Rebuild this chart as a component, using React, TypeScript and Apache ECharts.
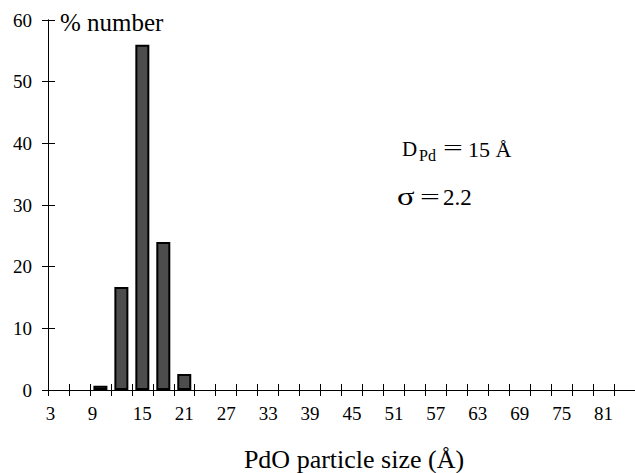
import React, { useEffect, useRef } from "react";
import * as echarts from "echarts";

const categories: string[] = [];
for (let v = 3; v <= 84; v += 3) categories.push(String(v));
// % number for sizes 9, 12, 15, 18, 21 Å; others zero
const barSizes = ["9", "12", "15", "18", "21"];
const barValues = [0.7, 16.7, 56, 24, 2.6];
const yTicks = { min: 0, max: 60, interval: 10 };

const seriesData = categories.map((c) => {
  const i = barSizes.indexOf(c);
  return i >= 0 ? barValues[i] : null;
});

const FONT = "Liberation Serif, Times New Roman, DejaVu Serif, serif";

function txt(text: string, x: number, y: number, size: number, extra: any = {}) {
  return {
    type: "text",
    x,
    y,
    ...(extra.scaleX ? { scaleX: extra.scaleX } : {}),
    style: {
      text,
      fontFamily: FONT,
      fontSize: size,
      fill: "#000",
      verticalAlign: "middle",
      align: extra.align || "left",
    },
  };
}

export default function App() {
  const ref = useRef<HTMLDivElement>(null);
  useEffect(() => {
    if (!ref.current) return;
    const chart = echarts.init(ref.current, null, { renderer: "svg" });
    const gridRect = { left: 48, top: 20, width: 588, height: 370 };
    const axisLineStyle = { color: "#000", width: 1 };
    chart.setOption({
      animation: false,
      backgroundColor: "#fff",
      grid: [
        { ...gridRect, containLabel: false },
        { ...gridRect, containLabel: false },
      ],
      xAxis: [
        {
          type: "category",
          gridIndex: 0,
          data: categories,
          boundaryGap: true,
          axisLine: { lineStyle: axisLineStyle },
          axisTick: { show: true, inside: false, length: 6, interval: 0, lineStyle: axisLineStyle },
          axisLabel: {
            interval: 1,
            margin: 14,
            color: "#000",
            fontFamily: FONT,
            fontSize: 19,
            formatter: (v: string) => (v.length === 1 ? `{s|${v}}` : v),
            rich: { s: { fontFamily: FONT, fontSize: 19, color: "#000", padding: [0, 16, 0, 0] } },
          },
          splitLine: { show: false },
        },
        {
          type: "category",
          gridIndex: 1,
          data: categories,
          boundaryGap: true,
          axisLine: { lineStyle: axisLineStyle },
          axisTick: { show: true, inside: true, length: 6, interval: 0, lineStyle: axisLineStyle },
          axisLabel: { show: false },
          splitLine: { show: false },
        },
      ],
      yAxis: [
        {
          type: "value",
          gridIndex: 0,
          ...yTicks,
          axisLine: { show: true, lineStyle: axisLineStyle },
          axisTick: { show: true, inside: false, length: 6, lineStyle: axisLineStyle },
          axisLabel: { margin: 16, color: "#000", fontFamily: FONT, fontSize: 19 },
          splitLine: { show: false },
        },
        {
          type: "value",
          gridIndex: 1,
          ...yTicks,
          axisLine: { show: true, lineStyle: axisLineStyle },
          axisTick: { show: true, inside: true, length: 7, lineStyle: axisLineStyle },
          axisLabel: { show: false },
          splitLine: { show: false },
        },
      ],
      series: [
        {
          type: "bar",
          xAxisIndex: 0,
          yAxisIndex: 0,
          data: seriesData,
          barWidth: 14,
          itemStyle: { color: "#4d4d4d", borderColor: "#000", borderWidth: 2 },
        },
      ],
      graphic: [
        txt("% number", 60, 22, 25),
        txt("D", 402, 149, 21),
        txt("Pd", 419, 155, 16),
        txt("=", 443, 148, 22, { scaleX: 1.6 }),
        txt("15 Å", 468, 149, 22),
        txt("σ", 397, 196, 26, { scaleX: 1.25 }),
        txt("=", 420, 197, 22, { scaleX: 1.6 }),
        txt("2.2", 443, 197, 23),
        txt("PdO particle size (Å)", 354, 459, 26, { align: "center" }),
      ],
    });
    return () => chart.dispose();
  }, []);
  return (
    <div
      ref={ref}
      style={{ position: "absolute", left: 0, top: 0, width: 635, height: 473 }}
    />
  );
}
